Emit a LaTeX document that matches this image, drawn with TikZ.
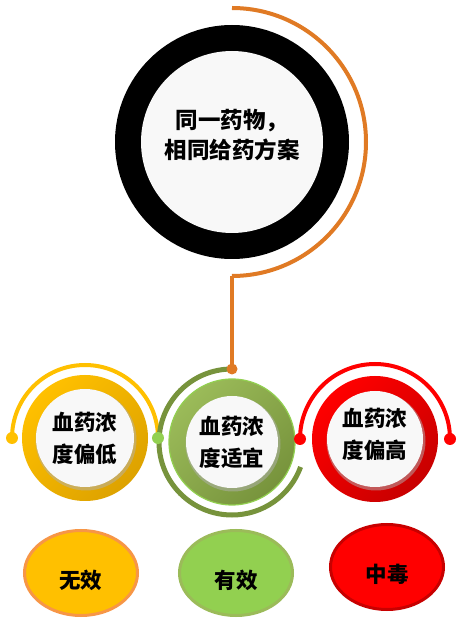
\documentclass[tikz,border=0pt]{standalone}
\usepackage{fontspec}
\newfontfamily\cjk{Noto Sans CJK SC}
\usetikzlibrary{shapes.geometric}

\definecolor{drugorange}{HTML}{E07A24}
\definecolor{paper}{HTML}{F8F8F8}
\definecolor{lowyellow}{HTML}{FFC000}
\definecolor{lowyellowdark}{HTML}{DDA200}
\definecolor{lowrim}{HTML}{F79646}
\definecolor{okgreen}{HTML}{9BBB59}
\definecolor{okgreendark}{HTML}{77933C}
\definecolor{okgreenlight}{HTML}{92D050}
\definecolor{highred}{HTML}{FF0000}
\definecolor{highreddark}{HTML}{C80000}

\begin{document}
\begin{tikzpicture}[x=1pt, y=1pt,
    ring/.style={circle, minimum size=126pt, inner sep=0pt,
        align=center, font=\cjk\bfseries\fontsize{21.5}{32}\selectfont,
        path picture={
            \fill[black!30, opacity=.5] ([shift={(1pt,-2pt)}]path picture bounding box.center) circle (#1+1.5pt);
            \fill[paper] (path picture bounding box.center) circle (#1);}},
    outcome/.style={ellipse, minimum width=113pt, minimum height=85pt, line width=3pt},
    outcometext/.style={yshift=-7pt, font=\cjk\bfseries\fontsize{21.5}{24}\selectfont},
    arcline/.style={line width=4pt},
    dot/.style={radius=6pt}]
    \fill[white] (0,0) rectangle (463,625);
    \useasboundingbox (0,0) rectangle (463,625);

    % drug
    \node[circle, minimum size=234pt, inner sep=0pt, fill=black,
        path picture={\fill[paper] (path picture bounding box.center) circle (91pt);},
        label={[yshift=7pt, align=center, font=\cjk\bfseries\fontsize{22.5}{30}\selectfont]center:同一药物，\\相同给药方案}]
        (drug) at (232,483) {};
    \draw[arcline, drugorange] (drug.center) ++(0,134) arc[start angle=90, end angle=-90, radius=134] coordinate (drugend);

    % levels
    \node[ring=49pt, top color=lowyellow, bottom color=lowyellowdark, shading angle=45] (low) at (85,187) {血药浓\\度偏低};
    \node[ring=46pt, top color=okgreen, bottom color=okgreendark, shading angle=45, draw=okgreenlight, line width=1.2pt] (ok) at (232,183) {血药浓\\度适宜};
    \node[ring=48pt, top color=highred, bottom color=highreddark, shading angle=45,
        label={[yshift=5pt, align=center, font=\cjk\bfseries\fontsize{21.5}{32}\selectfont]center:血药浓\\度偏高}] (high) at (375,186) {};

    \draw[arcline, lowyellow] (low.center) ++(-73,0) coordinate (lowL) arc[start angle=180, end angle=0, radius=73] coordinate (lowR);
    \draw[line width=5pt, okgreendark] (ok.center) ++(0,73) coordinate (oktop) arc[start angle=90, end angle=340, radius=73];
    \draw[arcline, highred] (high.center) ++(-75,0) coordinate (highL) arc[start angle=180, end angle=0, radius=75] coordinate (highR);

    % connector
    \draw[arcline, drugorange] (drugend) -- (oktop);
    \fill[drugorange] (oktop) circle[radius=5.5pt];
    \fill[lowyellow] (lowL) circle[dot];
    \fill[okgreenlight] (lowR) circle[dot];
    \fill[highred] (highL) circle[dot];
    \fill[highred] (highR) circle[dot];

    % outcomes
    \node[outcome, fill=lowyellow, draw=lowrim, label={[outcometext]center:无效}] (none) at (81,52) {};
    \node[outcome, fill=okgreenlight, draw=okgreen, label={[outcometext]center:有效}] (effect) at (236,52) {};
    \node[outcome, fill=highred, draw=highreddark, label={[outcometext]center:中毒}] (toxic) at (387,58) {};

\end{tikzpicture}
\end{document}
